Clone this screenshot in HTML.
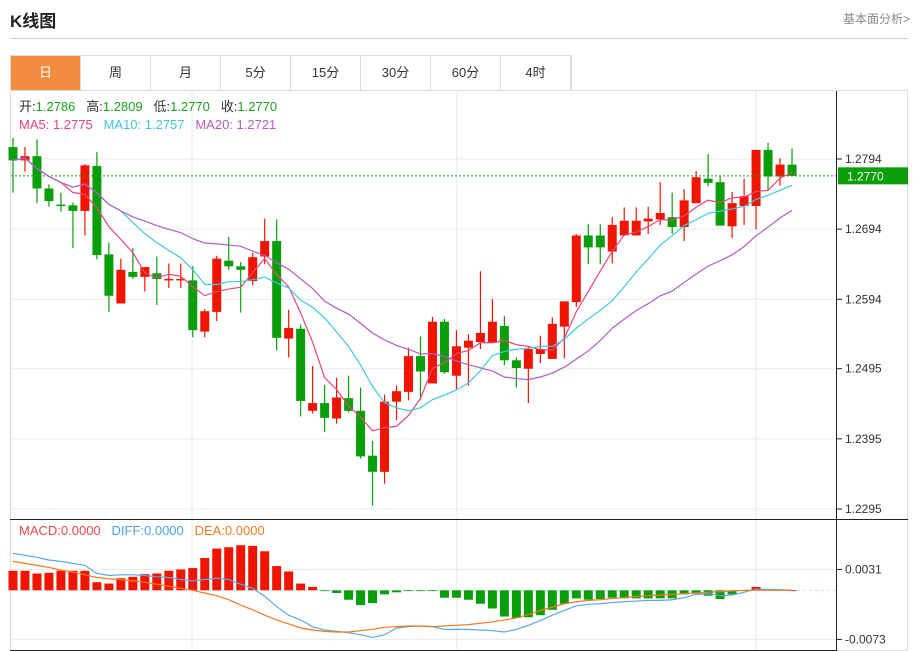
<!DOCTYPE html>
<html><head><meta charset="utf-8">
<style>
body{margin:0;width:918px;height:651px;background:#fff;font-family:"Liberation Sans","Noto Sans CJK SC",sans-serif;overflow:hidden;position:relative}
.title{position:absolute;left:10px;top:7px;font-size:17px;font-weight:bold;color:#222}
.more{position:absolute;right:8px;top:10px;font-size:12px;color:#888}
.hr{position:absolute;left:10px;top:38px;width:898px;height:1px;background:#ccc}
.tabs{position:absolute;left:10px;top:55px;height:35px;display:flex;border:1px solid #ddd;border-bottom:none;box-sizing:border-box}
.tab{width:70px;height:34px;line-height:34px;text-align:center;font-size:13px;color:#333;border-right:1px solid #ddd;box-sizing:border-box}
.tab.on{background:#f28c3e;color:#fff}
svg{position:absolute;left:0;top:0}
</style></head><body>
<div class="title">K线图</div>
<div class="more">基本面分析&gt;</div>
<div class="hr"></div>
<div class="tabs">
<div class="tab on">日</div>
<div class="tab">周</div>
<div class="tab">月</div>
<div class="tab">5分</div>
<div class="tab">15分</div>
<div class="tab">30分</div>
<div class="tab">60分</div>
<div class="tab">4时</div>
</div>
<svg id="c" width="918" height="651"></svg>
<script>
const opens=[1.2811,1.2792,1.2798,1.2752,1.2729,1.2728,1.2720,1.2784,1.2658,1.2588,1.2633,1.2626,1.2631,1.2622,1.2622,1.2621,1.2548,1.2576,1.2649,1.2641,1.2620,1.2655,1.2677,1.2538,1.2552,1.2435,1.2446,1.2424,1.2453,1.2435,1.2371,1.2348,1.2448,1.2462,1.2513,1.2474,1.2562,1.2485,1.2525,1.2533,1.2532,1.2556,1.2507,1.2495,1.2516,1.2509,1.2555,1.2590,1.2685,1.2685,1.2662,1.2685,1.2685,1.2705,1.2708,1.2711,1.2697,1.2731,1.2766,1.2761,1.2698,1.2727,1.2727,1.2807,1.2769,1.2786];
const highs=[1.2824,1.2811,1.2822,1.2758,1.2746,1.2732,1.2787,1.2804,1.2675,1.2652,1.2667,1.2640,1.2655,1.2645,1.2645,1.2641,1.2580,1.2656,1.2683,1.2647,1.2660,1.2709,1.2708,1.2579,1.2558,1.2499,1.2472,1.2482,1.2485,1.2468,1.2392,1.2458,1.2471,1.2525,1.2541,1.2569,1.2566,1.2550,1.2544,1.2634,1.2594,1.2570,1.2511,1.2527,1.2542,1.2568,1.2591,1.2687,1.2701,1.2701,1.2711,1.2725,1.2725,1.2726,1.2761,1.2746,1.2751,1.2777,1.2801,1.2771,1.2747,1.2766,1.2807,1.2817,1.2795,1.2809];
const lows=[1.2746,1.2776,1.2731,1.2726,1.2719,1.2667,1.2685,1.2651,1.2576,1.2588,1.2623,1.2605,1.2586,1.2610,1.2610,1.2540,1.2540,1.2563,1.2636,1.2575,1.2614,1.2644,1.2521,1.2511,1.2427,1.2431,1.2405,1.2417,1.2433,1.2367,1.2300,1.2331,1.2422,1.2450,1.2450,1.2474,1.2488,1.2466,1.2471,1.2523,1.2532,1.2500,1.2468,1.2446,1.2503,1.2509,1.2510,1.2583,1.2644,1.2644,1.2645,1.2685,1.2685,1.2687,1.2700,1.2687,1.2677,1.2731,1.2755,1.2699,1.2681,1.2700,1.2694,1.2750,1.2756,1.2770];
const closes=[1.2792,1.2798,1.2752,1.2734,1.2727,1.2720,1.2785,1.2657,1.2599,1.2636,1.2626,1.2640,1.2623,1.2623,1.2623,1.2550,1.2577,1.2652,1.2641,1.2636,1.2654,1.2677,1.2539,1.2553,1.2449,1.2446,1.2425,1.2454,1.2435,1.2370,1.2348,1.2448,1.2463,1.2513,1.2491,1.2562,1.2490,1.2527,1.2535,1.2546,1.2562,1.2507,1.2496,1.2523,1.2523,1.2559,1.2591,1.2685,1.2668,1.2668,1.2700,1.2706,1.2706,1.2709,1.2717,1.2697,1.2735,1.2768,1.2760,1.2699,1.2731,1.2741,1.2807,1.2769,1.2786,1.2770];
const macdBars=[0.0029,0.0029,0.0025,0.0026,0.0029,0.0029,0.0029,0.0012,0.0010,0.0018,0.0020,0.0024,0.0025,0.0029,0.0031,0.0033,0.0048,0.0062,0.0064,0.0067,0.0066,0.0058,0.0036,0.0028,0.0010,0.0005,-0.0001,-0.0004,-0.0014,-0.0022,-0.0019,-0.0006,-0.0003,-0.0001,-0.0001,-0.0001,-0.0011,-0.0011,-0.0014,-0.0020,-0.0027,-0.0039,-0.0041,-0.0040,-0.0037,-0.0029,-0.0020,-0.0012,-0.0014,-0.0013,-0.0011,-0.0012,-0.0012,-0.0012,-0.0012,-0.0012,-0.0006,-0.0005,-0.0008,-0.0013,-0.0006,-0.0001,0.0005,0.0001,0.0001,0.0000];
const diffVals=[0.0055,0.0052,0.0049,0.0045,0.0043,0.0040,0.0037,0.0025,0.0022,0.0023,0.0023,0.0022,0.0020,0.0019,0.0016,0.0014,0.0016,0.0018,0.0016,0.0009,0.0003,-0.0009,-0.0024,-0.0037,-0.0044,-0.0054,-0.0059,-0.0061,-0.0063,-0.0066,-0.0070,-0.0066,-0.0056,-0.0054,-0.0053,-0.0054,-0.0058,-0.0058,-0.0058,-0.0059,-0.0060,-0.0062,-0.0058,-0.0052,-0.0045,-0.0037,-0.0030,-0.0023,-0.0021,-0.0020,-0.0018,-0.0017,-0.0016,-0.0015,-0.0015,-0.0014,-0.0011,-0.0006,-0.0005,-0.0008,-0.0007,-0.0003,0.0002,0.0001,0.0001,0.0000];
const deaVals=[0.0043,0.0040,0.0037,0.0034,0.0030,0.0027,0.0023,0.0019,0.0017,0.0016,0.0014,0.0012,0.0009,0.0006,0.0003,0.0000,-0.0004,-0.0008,-0.0014,-0.0022,-0.0029,-0.0037,-0.0044,-0.0050,-0.0056,-0.0059,-0.0061,-0.0062,-0.0062,-0.0060,-0.0058,-0.0055,-0.0054,-0.0053,-0.0053,-0.0054,-0.0053,-0.0052,-0.0051,-0.0049,-0.0047,-0.0044,-0.0041,-0.0036,-0.0030,-0.0025,-0.0020,-0.0017,-0.0015,-0.0014,-0.0012,-0.0011,-0.0009,-0.0008,-0.0007,-0.0006,-0.0005,-0.0004,-0.0003,-0.0002,-0.0001,0.0000,0.0000,0.0000,0.0000,0.0000];
const priceTicks=[1.2794,1.2694,1.2594,1.2495,1.2395,1.2295];
const macdTicks=[0.0031,-0.0073];

const svg=document.getElementById('c');
const NS='http://www.w3.org/2000/svg';
function mk(t,a,name,parent){const e=document.createElementNS(NS,t);for(const k in a)e.setAttribute(k,a[k]);


(parent||svg).appendChild(e);return e;}
const xs=i=>13+i*11.985;
const py=p=>159+(1.2794-p)*7014;
const my=v=>590.3-v*6731;
// frame
mk('rect',{x:10.5,y:90.5,width:897,height:560,fill:'none',stroke:'#ddd'},'chart-frame');
// grid
priceTicks.forEach(t=>mk('line',{x1:11,x2:836,y1:py(t),y2:py(t),stroke:'#e6ecf0'},'price-gridline'));
macdTicks.forEach(t=>mk('line',{x1:11,x2:836,y1:my(t),y2:my(t),stroke:'#e6ecf0'},'macd-gridline'));
[192,457,756].forEach(x=>{mk('line',{x1:x,x2:x,y1:91,y2:519,stroke:'#dde8f0'},'vertical-gridline');mk('line',{x1:x,x2:x,y1:520,y2:651,stroke:'#dde8f0'},'vertical-gridline');});
mk('line',{x1:836.5,x2:836.5,y1:91,y2:651,stroke:'#222'},'y-axis-line');
mk('line',{x1:10,x2:908,y1:519.5,y2:519.5,stroke:'#222'},'panel-divider');
mk('line',{x1:10,x2:836,y1:650.5,y2:650.5,stroke:'#222'},'macd-bottom-line');
// ticks
priceTicks.forEach(t=>{mk('line',{x1:837,x2:842,y1:py(t),y2:py(t),stroke:'#222'},'price-tick');
const tx=mk('text',{x:845,y:py(t)+4,'font-size':12,fill:'#333'},'price-tick-label');tx.textContent=t.toFixed(4);});
macdTicks.forEach(t=>{mk('line',{x1:837,x2:842,y1:my(t),y2:my(t),stroke:'#222'},'macd-tick');
const tx=mk('text',{x:845,y:my(t)+4,'font-size':12,fill:'#333'},'macd-tick-label');tx.textContent=t.toFixed(4);});
// MA
function ma(n){return closes.map((c,i)=>{const s=closes.slice(Math.max(0,i-n+1),i+1);return s.reduce((a,b)=>a+b,0)/s.length;});}
// candles
closes.forEach((c,i)=>{const o=opens[i],up=c>=o,col=up?'#f01500':'#0a9f0a';const x=xs(i);
mk('line',{x1:x,x2:x,y1:py(highs[i]),y2:py(lows[i]),stroke:col,'stroke-width':1.2},'candle-wick');
const t=Math.min(py(o),py(c)),h=Math.max(1.5,Math.abs(py(o)-py(c)));
mk('rect',{x:x-4.5,y:t,width:9,height:h,fill:col},up?'candle-up':'candle-down');});
[[5,'#e8467c','ma5-line'],[10,'#3fc8e0','ma10-line'],[20,'#b35bc7','ma20-line']].forEach(([n,col,nm])=>{
mk('polyline',{points:ma(n).map((v,i)=>xs(i)+','+py(v)).join(' '),fill:'none',stroke:col,'stroke-width':1.2},nm);});
// current price
const last=closes[closes.length-1];
mk('line',{x1:11,x2:836,y1:py(last),y2:py(last),stroke:'#1aa31a','stroke-dasharray':'2,2'},'current-price-line');
mk('rect',{x:838,y:py(last)-8.5,width:70,height:17,fill:'#0a9f0a'},'current-price-badge');
const cp=mk('text',{x:847,y:py(last)+4.5,'font-size':12,fill:'#fff'},'current-price-label');cp.textContent='1.2770';
// macd
mk('line',{x1:11,x2:836,y1:my(0),y2:my(0),stroke:'#bde3f0','stroke-dasharray':'3,3'},'macd-zero-line');
macdBars.forEach((v,i)=>{const y0=my(0),y1=my(v);mk('rect',{x:xs(i)-4.5,y:Math.min(y0,y1),width:9,height:Math.max(0.8,Math.abs(y1-y0)),fill:v>=0?'#f01500':'#0a9f0a'},'macd-bar');});
mk('polyline',{points:diffVals.map((v,i)=>xs(i)+','+my(v)).join(' '),fill:'none',stroke:'#5aa9ee','stroke-width':1.2},'diff-line');
mk('polyline',{points:deaVals.map((v,i)=>xs(i)+','+my(v)).join(' '),fill:'none',stroke:'#f47a20','stroke-width':1.2},'dea-line');
// legends
function leg(x,y,parts,name){const t=mk('text',{x:x,y:y,'font-size':13},name);parts.forEach(([s,c])=>{const ts=document.createElementNS(NS,'tspan');ts.setAttribute('fill',c);ts.textContent=s;t.appendChild(ts);});}
leg(19,111,[['开:','#333'],['1.2786   ','#1aa31a'],['高:','#333'],['1.2809   ','#1aa31a'],['低:','#333'],['1.2770   ','#1aa31a'],['收:','#333'],['1.2770','#1aa31a']],'ohlc-legend');
svg.lastChild.setAttribute('xml:space','preserve');svg.lastChild.style.whiteSpace='pre';
leg(19,129,[['MA5: 1.2775   ','#e8467c'],['MA10: 1.2757   ','#3fc8e0'],['MA20: 1.2721','#b35bc7']],'ma-legend');
svg.lastChild.style.whiteSpace='pre';
leg(19,535,[['MACD:0.0000   ','#ef4a4a'],['DIFF:0.0000   ','#4aa3ef'],['DEA:0.0000','#f47a20']],'macd-legend');
svg.lastChild.style.whiteSpace='pre';
</script>
</body></html>
